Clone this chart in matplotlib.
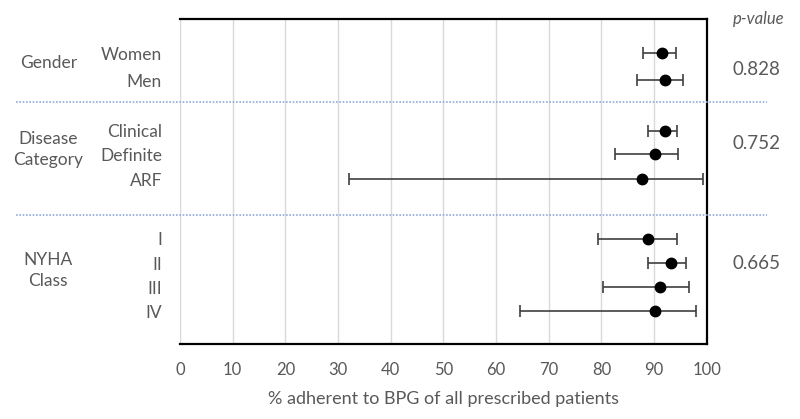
import numpy as np
import matplotlib.pyplot as plt

plt.rcParams['font.family'] = ['Lato', 'DejaVu Sans']

# dados
rotulos = ['Women', 'Men', 'Clinical', 'Definite', 'ARF', 'I', 'II', 'III', 'IV']
media = [91.5, 92.0, 92.0, 90.1, 87.8, 88.8, 93.2, 91.2, 90.1]
ic_inf = [87.9, 86.8, 88.8, 82.6, 32.0, 79.4, 88.8, 80.3, 64.5]
ic_sup = [94.1, 95.5, 94.4, 94.6, 99.2, 94.4, 96.0, 96.6, 98.0]
grupos = ['Gender', 'Disease\nCategory', 'NYHA\nClass']
p_valores = ['0.828', '0.752', '0.665']

# posicoes das linhas (em unidades de linha)
pos_y = [0, 1.08, 3.11, 4.04, 5.04, 7.43, 8.40, 9.36, 10.32]
pos_grupo = [0.4, 3.85, 8.7]
pos_p = [0.65, 3.6, 8.4]
divisorias = [1.95, 6.47]

cinza = '#595959'

fig = plt.figure(figsize=(8, 4.19), dpi=100)
ax = fig.add_axes([0.225, 0.179, 0.6584, 0.775])

media = np.array(media)
erro = [media - np.array(ic_inf), np.array(ic_sup) - media]
ax.errorbar(media, pos_y, xerr=erro, fmt='o', color='black', ms=7.5,
            ecolor='#404040', elinewidth=1.2, capsize=4, capthick=1.2, zorder=3)

ax.set_xlim(0, 100)
ax.set_ylim(11.64, -1.35)
ax.set_xticks(np.arange(0, 101, 10))
ax.grid(axis='x', color='#d9d9d9', lw=1)
ax.set_axisbelow(True)
ax.tick_params(axis='x', length=0, labelsize=12, labelcolor=cinza, pad=13)
ax.set_yticks(pos_y)
ax.set_yticklabels(rotulos)
ax.tick_params(axis='y', length=0, labelsize=12.5, labelcolor=cinza, pad=13)
ax.spines['left'].set_visible(False)
for s in ['top', 'bottom', 'right']:
    ax.spines[s].set_linewidth(1.6)
ax.set_xlabel('% adherent to BPG of all prescribed patients', fontsize=13,
              color=cinza, labelpad=9)

# rotulos dos grupos e p-valores
for g, y in zip(grupos, pos_grupo):
    ax.text(-25.0, y, g, ha='center', va='center', fontsize=12.5, color=cinza,
            linespacing=1.4)
for p, y in zip(p_valores, pos_p):
    ax.text(109.5, y, p, ha='center', va='center', fontsize=13.5, color=cinza)
ax.text(109.8, -1.35, 'p-value', ha='center', va='center', fontsize=12,
        color=cinza, style='italic')

# linhas pontilhadas separando os grupos
for d in divisorias:
    ax.plot([-31.2, 111.5], [d, d], ls=(0, (1, 1)), color='#8faadc', lw=1.2,
            clip_on=False, zorder=4)

fig.savefig('out.png', dpi=100)
